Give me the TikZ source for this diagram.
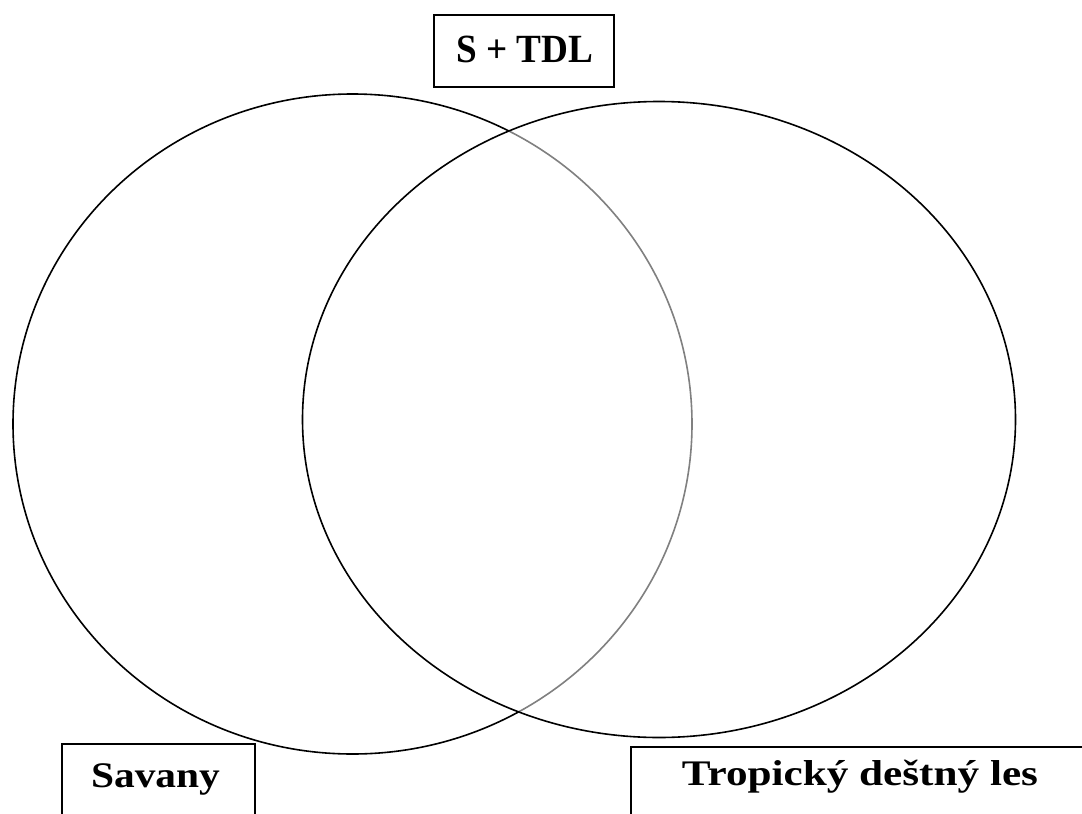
\documentclass[tikz,border=0pt]{standalone}
\usepackage{fontspec}
\setmainfont{Liberation Serif}
\begin{document}
\begin{tikzpicture}[x=1pt,y=-1pt,
  ring/.style={draw=black,line width=1.6pt},
  labelbox/.style={draw=black,line width=1.2pt,inner sep=0pt},
  labeltext/.style={font=\bfseries,inner sep=0pt,anchor=base}]
  \clip (0,0) rectangle (1082,814);
  \fill[white] (0,0) rectangle (1082,814);
  % savanna set
  \draw[ring] (352.5,424) ellipse [x radius=339.5, y radius=330];
  % rainforest set, half-covering the first outline where they overlap
  \draw[ring,fill=white,fill opacity=0.5] (659,419.5) ellipse [x radius=356.5, y radius=318];
  % labels
  \node[labelbox,minimum width=180,minimum height=72] (topbox) at (524,51) {};
  \node[labeltext,font=\fontsize{40}{44}\selectfont\bfseries] (toptext) at (524.5,62) {\scalebox{0.93}[1]{S + TDL}};
  \node[labelbox,minimum width=193,minimum height=100] (savbox) at (158.5,794) {};
  \node[labeltext,font=\fontsize{36}{40}\selectfont\bfseries] (savtext) at (155.5,787) {\scalebox{1.15}[1]{Savany}};
  \node[labelbox,minimum width=480,minimum height=100] (tdlbox) at (871,797) {};
  \node[labeltext,font=\fontsize{36}{40}\selectfont\bfseries] (tdltext) at (860,785) {\scalebox{1.2}[1]{Tropický deštný les}};
\end{tikzpicture}
\end{document}
